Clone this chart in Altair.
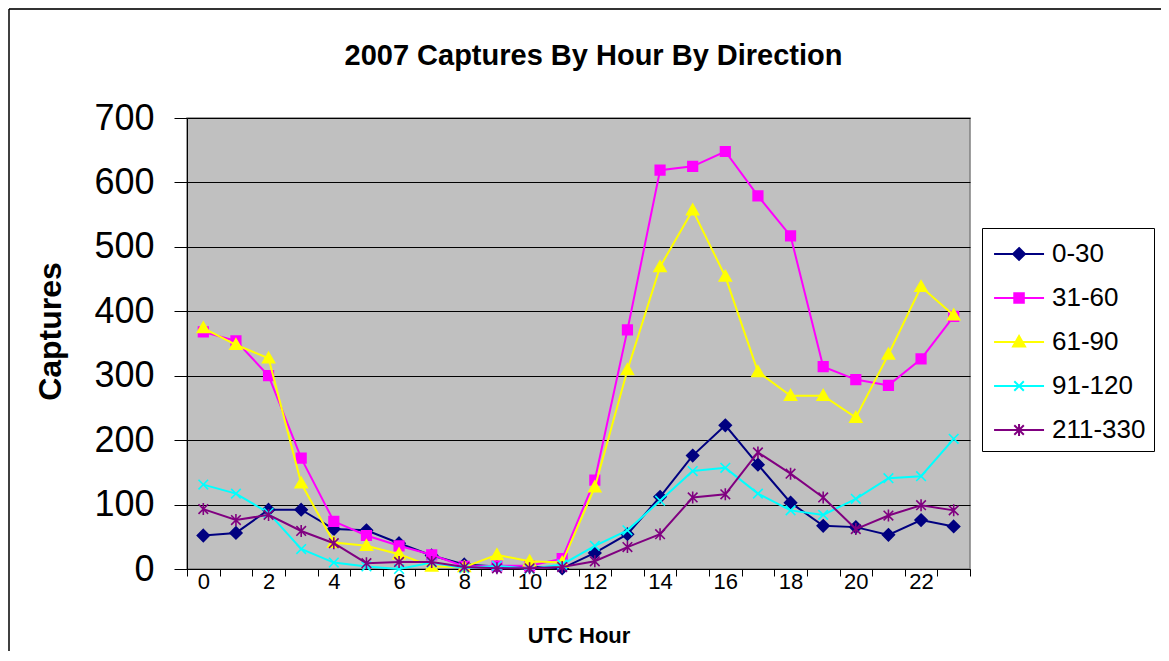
import altair as alt
import pandas as pd

hours = list(range(24))
series_names = ["0-30", "31-60", "61-90", "91-120", "211-330"]
v_0_30 = [52, 56, 92, 92, 62, 60, 40, 21, 7, 4, 4, 1, 25, 54, 112, 176, 223, 162, 103, 67, 65, 53, 76, 66]
v_31_60 = [368, 354, 300, 172, 74, 52, 36, 22, 4, 5, 5, 16, 138, 371, 619, 625, 648, 579, 517, 314, 294, 285, 326, 392]
v_61_90 = [374, 348, 327, 133, 41, 36, 23, 4, 3, 22, 12, 10, 127, 309, 469, 557, 454, 306, 269, 269, 235, 333, 438, 394]
v_91_120 = [131, 117, 87, 31, 10, 4, 0, 10, 1, 5, 0, 7, 36, 60, 106, 152, 157, 117, 91, 84, 109, 141, 144, 202]
v_211_330 = [93, 76, 84, 59, 40, 9, 11, 11, 3, 1, 1, 3, 12, 34, 54, 111, 116, 181, 148, 111, 62, 83, 99, 91]
all_values = [v_0_30, v_31_60, v_61_90, v_91_120, v_211_330]

colors = ["#000080", "#FF00FF", "#FFFF00", "#00FFFF", "#800080"]
marker_paths = [
    "M0,-1L1,0L0,1L-1,0Z",
    "M-0.8,-0.8L0.8,-0.8L0.8,0.8L-0.8,0.8Z",
    "M0,-1L1,0.75L-1,0.75Z",
    "M-0.8,-0.8L0.8,0.8M-0.8,0.8L0.8,-0.8",
    "M-0.8,-0.8L0.8,0.8M-0.8,0.8L0.8,-0.8M0,-1L0,1",
]
# legend symbols: line segment plus marker
legend_paths = [
    "M-0.82,0L2.12,0M0.65,-0.35L1.0,0L0.65,0.35L0.3,0Z",
    "M-0.82,0L2.12,0M0.37,-0.28L0.93,-0.28L0.93,0.28L0.37,0.28Z",
    "M-0.82,0L2.12,0M0.65,-0.35L1.0,0.26L0.3,0.26Z",
    "M-0.82,0L2.12,0M0.37,-0.28L0.93,0.28M0.37,0.28L0.93,-0.28",
    "M-0.82,0L2.12,0M0.37,-0.28L0.93,0.28M0.37,0.28L0.93,-0.28M0.65,-0.35L0.65,0.35",
]

rows = []
for name, vals in zip(series_names, all_values):
    for h, v in zip(hours, vals):
        rows.append({"hour": h, "captures": v, "series": name})
df = pd.DataFrame(rows)

FONT = "Liberation Sans"
W, H = 783, 451

x_vals = [i * 0.5 for i in range(-1, 48)]
x_enc = alt.X(
    "hour:Q",
    scale=alt.Scale(domain=[-0.5, 23.5], nice=False, zero=False),
    axis=alt.Axis(
        values=x_vals,
        labelExpr="datum.value % 2 == 0 ? format(datum.value, 'd') : ''",
        tickOpacity={"condition": {"test": "datum.value % 1 != 0", "value": 1}, "value": 0},
        labelOverlap=False,
        grid=False,
        tickSize=7,
        tickColor="black",
        domainColor="black",
        labelFontSize=22,
        labelFont=FONT,
        labelColor="black",
        labelPadding=-5,
        title="UTC Hour",
        titleFont=FONT,
        titleFontSize=22,
        titleFontWeight="bold",
        titleColor="black",
        titleX=W / 2,
        titleY=66,
        titleBaseline="middle",
        titleAlign="center",
    ),
)
y_enc = alt.Y(
    "captures:Q",
    scale=alt.Scale(domain=[0, 700], nice=False),
    axis=alt.Axis(
        values=list(range(0, 701, 100)),
        grid=True,
        gridColor="black",
        gridWidth=1,
        tickSize=13,
        tickColor="black",
        domainColor="black",
        labelFontSize=36,
        labelFont=FONT,
        labelColor="black",
        labelPadding=20,
        title="Captures",
        titleFont=FONT,
        titleFontSize=32,
        titleFontWeight="bold",
        titleColor="black",
        titleX=-137,
        titleY=213,
        titleAngle=270,
        titleBaseline="middle",
        titleAlign="center",
    ),
)

layers = []
for name, col, path in zip(series_names, colors, marker_paths):
    sub = alt.Chart(df).transform_filter(alt.datum.series == name)
    layers.append(sub.mark_line(color=col, strokeWidth=2).encode(x=x_enc, y=y_enc))
    layers.append(
        sub.mark_point(shape=path, size=144, filled=True, fill=col, stroke=col,
                       strokeWidth=1.6, opacity=1).encode(x=x_enc, y=y_enc)
    )

leg = alt.Legend(
    title=None,
    orient="none",
    legendX=795,
    legendY=110,
    strokeColor="black",
    fillColor="white",
    padding=8,
    labelFont=FONT,
    labelFontSize=26,
    labelColor="black",
    symbolSize=1156,
    symbolStrokeWidth=2,
    rowPadding=13,
    labelOffset=26,
)
color_scale = alt.Scale(domain=series_names, range=colors)
legend_layer = (
    alt.Chart(df)
    .transform_filter("false")
    .mark_point(filled=True, opacity=1, strokeWidth=2)
    .encode(
        x=x_enc,
        y=y_enc,
        fill=alt.Fill("series:N", scale=color_scale, legend=leg),
        stroke=alt.Stroke("series:N", scale=color_scale, legend=leg),
        shape=alt.Shape("series:N", scale=alt.Scale(domain=series_names, range=legend_paths), legend=leg),
    )
)
layers.append(legend_layer)

one = pd.DataFrame({"k": [0]})
border_top = alt.Chart(one).mark_rule(color="#333333", strokeWidth=2).encode(
    x=alt.value(-178), x2=alt.value(1169 - 187), y=alt.value(-109)
)
border_left = alt.Chart(one).mark_rule(color="black", strokeWidth=1.5).encode(
    x=alt.value(-178), y=alt.value(-109), y2=alt.value(661 - 118)
)
layers += [border_top, border_left]

chart = (
    alt.layer(*layers)
    .properties(
        width=W,
        height=H,
        autosize=alt.AutoSizeParams(type="none"),
        padding={"left": 179, "top": 110, "right": 191, "bottom": 82},
        title=alt.TitleParams(
            "2007 Captures By Hour By Direction",
            font=FONT,
            fontSize=29,
            fontWeight="bold",
            color="black",
            anchor="middle",
            baseline="alphabetic",
            offset=0,
            dy=86,
            dx=15,
        ),
        background="white",
    )
    .configure_view(fill="#C0C0C0", stroke="#808080", strokeWidth=1.5)
)

chart.save("out.html", embed_options={"renderer": "svg", "actions": False})
